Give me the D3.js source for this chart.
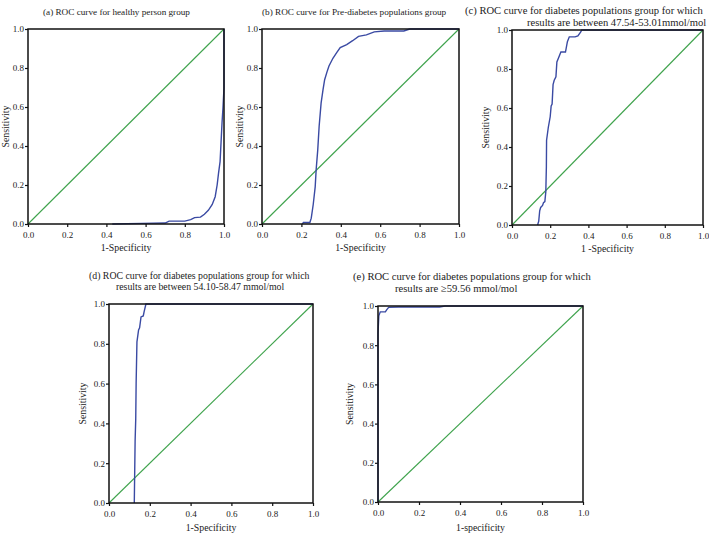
<!DOCTYPE html>
<html>
<head>
<meta charset="utf-8">
<script src="https://cdn.jsdelivr.net/npm/d3@7"></script>
<style>
  body { margin: 0; background: #fff; }
  svg { display: block; }
  text { font-family: "Liberation Serif", "Times New Roman", serif; fill: #222; }
</style>
</head>
<body>
<svg width="709" height="534"></svg>
<script>
// ROC points: [1-specificity, sensitivity]
const rocA = [[0.43, 0], [0.58, 0.003], [0.70, 0.005], [0.72, 0.015], [0.80, 0.015], [0.83, 0.022],
  [0.85, 0.033], [0.88, 0.035], [0.90, 0.05], [0.92, 0.07], [0.94, 0.10], [0.955, 0.14], [0.965, 0.2],
  [0.972, 0.26], [0.98, 0.32], [0.985, 0.42], [0.99, 0.52], [0.995, 0.6], [1.0, 0.7], [1.0, 1.0]];
const rocB = [[0.205, 0], [0.21, 0.008], [0.243, 0.008], [0.25, 0.03], [0.26, 0.1], [0.27, 0.19],
  [0.275, 0.28], [0.283, 0.38], [0.29, 0.5], [0.30, 0.62], [0.31, 0.69], [0.318, 0.74], [0.33, 0.78],
  [0.34, 0.81], [0.36, 0.85], [0.38, 0.88], [0.397, 0.905], [0.43, 0.92], [0.46, 0.94], [0.49, 0.962],
  [0.53, 0.97], [0.57, 0.985], [0.62, 0.99], [0.72, 0.99], [0.75, 1.0], [1.0, 1.0]];
const rocC = [[0.134, 0], [0.14, 0.02], [0.145, 0.073], [0.15, 0.09], [0.16, 0.1], [0.165, 0.115],
  [0.172, 0.12], [0.177, 0.17], [0.18, 0.3], [0.181, 0.435], [0.19, 0.5], [0.2, 0.555], [0.205, 0.61],
  [0.21, 0.62], [0.215, 0.72], [0.221, 0.742], [0.23, 0.76], [0.235, 0.836], [0.245, 0.86],
  [0.256, 0.887], [0.28, 0.887], [0.29, 0.94], [0.30, 0.965], [0.33, 0.965], [0.345, 0.97],
  [0.36, 0.99], [0.365, 1.0], [1.0, 1.0]];
const rocD = [[0.124, 0], [0.128, 0.31], [0.131, 0.42], [0.133, 0.6], [0.137, 0.81], [0.145, 0.87],
  [0.15, 0.88], [0.157, 0.935], [0.168, 0.94], [0.172, 0.96], [0.181, 1.0], [1.0, 1.0]];
const rocE = [[0, 0], [0, 0.86], [0.004, 0.95], [0.011, 0.97], [0.036, 0.97], [0.042, 0.98],
  [0.052, 0.993], [0.1, 0.995], [0.3, 0.995], [0.327, 1.0], [1.0, 1.0]];

const ticks = [0, 0.2, 0.4, 0.6, 0.8, 1.0];

const titleA = ["(a)  ROC curve for healthy person group"];
const titleB = ["(b)  ROC curve for Pre-diabetes populations  group"];
const titleC = ["(c)  ROC curve for diabetes populations group for which", "results are between 47.54-53.01mmol/mol"];
const titleD = ["(d)  ROC curve for diabetes populations group for which", "results are between 54.10-58.47 mmol/mol"];
const titleE = ["(e)  ROC curve for diabetes populations group for which", "results are  \u226559.56 mmol/mol"];

const xLabels = ["1-Specificity", "1-Specificity", "1 -Specificity", "1-Specificity", "1-specificity"];

const svg = d3.select("svg");

// box = plot frame in px, tx/ty = start of each title line, yl = y-label baseline x
const panels = [
  {roc: rocA, title: titleA, box: [28, 224, 29, 224], tx: [43], ty: [14.5], tfs: 9.2, yl: 9, xlY: 251, xl: xLabels[0]},
  {roc: rocB, title: titleB, box: [262, 459, 29, 224], tx: [262], ty: [14.5], tfs: 9.2, yl: 243, xlY: 251, xl: xLabels[1]},
  {roc: rocC, title: titleC, box: [512, 703, 30, 225], tx: [465, 527], ty: [13.5, 25.5], tfs: 10.6, yl: 489, xlY: 252, xl: xLabels[2]},
  {roc: rocD, title: titleD, box: [109, 313, 304, 503], tx: [89, 116], ty: [278.5, 290], tfs: 9.8, yl: 86, xlY: 531, xl: xLabels[3]},
  {roc: rocE, title: titleE, box: [378, 583, 306, 502], tx: [353, 395], ty: [280, 292], tfs: 10.6, yl: 353, xlY: 531, xl: xLabels[4]}
];

panels.forEach(p => {
  const [x0, x1, y0, y1] = p.box;
  const x = d3.scaleLinear().domain([0, 1]).range([x0, x1]);
  const y = d3.scaleLinear().domain([0, 1]).range([y1, y0]);
  const g = svg.append("g");

  // title lines
  p.title.forEach((t, i) => {
    g.append("text").attr("x", p.tx[i]).attr("y", p.ty[i])
      .attr("font-size", p.tfs).text(t);
  });

  // axes
  const xAxis = g.append("g").attr("transform", `translate(0,${y1})`)
    .call(d3.axisBottom(x).tickValues(ticks).tickSize(3).tickFormat(d3.format(".1f")));
  const yAxis = g.append("g").attr("transform", `translate(${x0},0)`)
    .call(d3.axisLeft(y).tickValues(ticks).tickSize(3).tickFormat(d3.format(".1f")));
  [xAxis, yAxis].forEach(a => {
    a.select(".domain").remove();
    a.selectAll("line").attr("stroke", "#111").attr("stroke-width", 1.2);
    a.selectAll("text").attr("font-size", 9).attr("font-family", "Liberation Serif, serif").attr("fill", "#222");
  });
  xAxis.selectAll("text").attr("dy", "0.9em");
  yAxis.selectAll("text").attr("x", -4);

  // axis labels
  g.append("text").attr("x", (x0 + x1) / 2).attr("y", p.xlY)
    .attr("text-anchor", "middle").attr("font-size", 9.8).text(p.xl);
  g.append("text").attr("transform", `translate(${p.yl},${(y0 + y1) / 2}) rotate(-90)`)
    .attr("text-anchor", "middle").attr("font-size", 9.8).text("Sensitivity");

  // reference diagonal
  g.append("line").attr("x1", x(0)).attr("y1", y(0)).attr("x2", x(1)).attr("y2", y(1))
    .attr("stroke", "#3fa34d").attr("stroke-width", 1.1);

  // ROC curve
  g.append("path").datum(p.roc)
    .attr("d", d3.line().x(d => x(d[0])).y(d => y(d[1])))
    .attr("fill", "none").attr("stroke", "#3a4aa3").attr("stroke-width", 1.4);

  // frame
  g.append("rect").attr("x", x0).attr("y", y0).attr("width", x1 - x0).attr("height", y1 - y0)
    .attr("fill", "none").attr("stroke", "#111").attr("stroke-width", 1.5);
});
</script>
</body>
</html>
